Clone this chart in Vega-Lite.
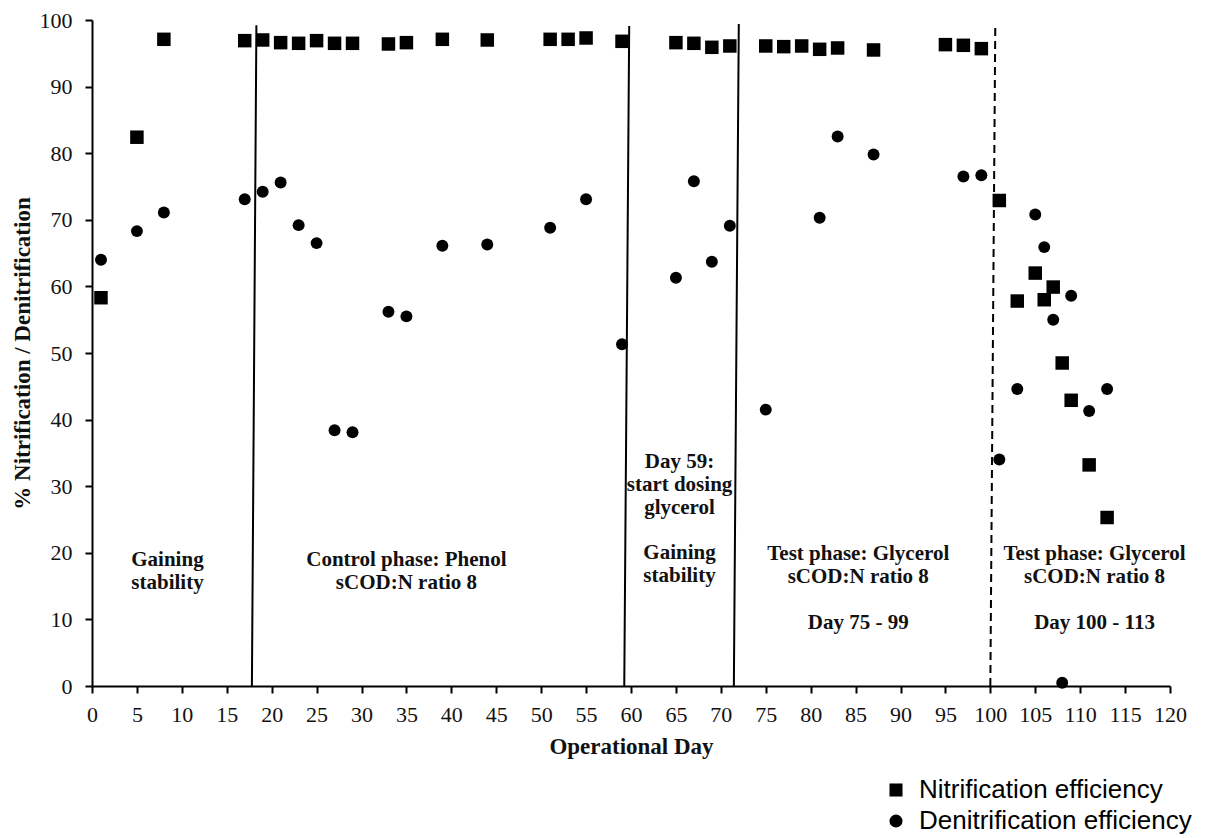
{
  "$schema": "https://vega.github.io/schema/vega-lite/v6.json",
  "width": 1078,
  "height": 666,
  "autosize": {"type": "none"},
  "padding": {"left": 92, "top": 20, "right": 52, "bottom": 152},
  "background": "white",
  "config": {
    "view": {"stroke": null},
    "axis": {"grid": false, "domainColor": "#000", "tickColor": "#000", "labelColor": "#111", "titleColor": "#111", "domainWidth": 2, "tickWidth": 2, "tickSize": 7, "labelFont": "Liberation Serif", "labelFontSize": 22, "titleFont": "Liberation Serif", "titleFontSize": 23, "titleFontWeight": "bold"}
  },
  "datasets": {
    "phases": [
      {"x0": 17.8, "x1": 18.3, "bottom": 0, "top": 99.2, "style": "solid"},
      {"x0": 59.25, "x1": 59.8, "bottom": 0, "top": 99.1, "style": "solid"},
      {"x0": 71.45, "x1": 72.0, "bottom": 0, "top": 99.4, "style": "solid"},
      {"x0": 100.0, "x1": 100.55, "bottom": 0, "top": 99.0, "style": "dashed"}
    ],
    "points": [
      {"day": 1, "value": 58.3, "series": "Nitrification efficiency"},
      {"day": 5, "value": 82.4, "series": "Nitrification efficiency"},
      {"day": 8, "value": 97.1, "series": "Nitrification efficiency"},
      {"day": 17, "value": 96.9, "series": "Nitrification efficiency"},
      {"day": 19, "value": 97.0, "series": "Nitrification efficiency"},
      {"day": 21, "value": 96.6, "series": "Nitrification efficiency"},
      {"day": 23, "value": 96.5, "series": "Nitrification efficiency"},
      {"day": 25, "value": 96.9, "series": "Nitrification efficiency"},
      {"day": 27, "value": 96.5, "series": "Nitrification efficiency"},
      {"day": 29, "value": 96.5, "series": "Nitrification efficiency"},
      {"day": 33, "value": 96.4, "series": "Nitrification efficiency"},
      {"day": 35, "value": 96.6, "series": "Nitrification efficiency"},
      {"day": 39, "value": 97.1, "series": "Nitrification efficiency"},
      {"day": 44, "value": 97.0, "series": "Nitrification efficiency"},
      {"day": 51, "value": 97.1, "series": "Nitrification efficiency"},
      {"day": 53, "value": 97.1, "series": "Nitrification efficiency"},
      {"day": 55, "value": 97.3, "series": "Nitrification efficiency"},
      {"day": 59, "value": 96.8, "series": "Nitrification efficiency"},
      {"day": 65, "value": 96.6, "series": "Nitrification efficiency"},
      {"day": 67, "value": 96.5, "series": "Nitrification efficiency"},
      {"day": 69, "value": 95.9, "series": "Nitrification efficiency"},
      {"day": 71, "value": 96.1, "series": "Nitrification efficiency"},
      {"day": 75, "value": 96.1, "series": "Nitrification efficiency"},
      {"day": 77, "value": 96.0, "series": "Nitrification efficiency"},
      {"day": 79, "value": 96.1, "series": "Nitrification efficiency"},
      {"day": 81, "value": 95.6, "series": "Nitrification efficiency"},
      {"day": 83, "value": 95.8, "series": "Nitrification efficiency"},
      {"day": 87, "value": 95.5, "series": "Nitrification efficiency"},
      {"day": 95, "value": 96.3, "series": "Nitrification efficiency"},
      {"day": 97, "value": 96.2, "series": "Nitrification efficiency"},
      {"day": 99, "value": 95.7, "series": "Nitrification efficiency"},
      {"day": 101, "value": 72.9, "series": "Nitrification efficiency"},
      {"day": 103, "value": 57.8, "series": "Nitrification efficiency"},
      {"day": 105, "value": 62.0, "series": "Nitrification efficiency"},
      {"day": 106, "value": 58.0, "series": "Nitrification efficiency"},
      {"day": 107, "value": 59.9, "series": "Nitrification efficiency"},
      {"day": 108, "value": 48.5, "series": "Nitrification efficiency"},
      {"day": 109, "value": 42.9, "series": "Nitrification efficiency"},
      {"day": 111, "value": 33.2, "series": "Nitrification efficiency"},
      {"day": 113, "value": 25.3, "series": "Nitrification efficiency"},
      {"day": 1, "value": 64.0, "series": "Denitrification efficiency"},
      {"day": 5, "value": 68.3, "series": "Denitrification efficiency"},
      {"day": 8, "value": 71.1, "series": "Denitrification efficiency"},
      {"day": 17, "value": 73.1, "series": "Denitrification efficiency"},
      {"day": 19, "value": 74.2, "series": "Denitrification efficiency"},
      {"day": 21, "value": 75.6, "series": "Denitrification efficiency"},
      {"day": 23, "value": 69.2, "series": "Denitrification efficiency"},
      {"day": 25, "value": 66.5, "series": "Denitrification efficiency"},
      {"day": 27, "value": 38.4, "series": "Denitrification efficiency"},
      {"day": 29, "value": 38.1, "series": "Denitrification efficiency"},
      {"day": 33, "value": 56.2, "series": "Denitrification efficiency"},
      {"day": 35, "value": 55.5, "series": "Denitrification efficiency"},
      {"day": 39, "value": 66.1, "series": "Denitrification efficiency"},
      {"day": 44, "value": 66.3, "series": "Denitrification efficiency"},
      {"day": 51, "value": 68.8, "series": "Denitrification efficiency"},
      {"day": 55, "value": 73.1, "series": "Denitrification efficiency"},
      {"day": 59, "value": 51.3, "series": "Denitrification efficiency"},
      {"day": 65, "value": 61.3, "series": "Denitrification efficiency"},
      {"day": 67, "value": 75.8, "series": "Denitrification efficiency"},
      {"day": 69, "value": 63.7, "series": "Denitrification efficiency"},
      {"day": 71, "value": 69.1, "series": "Denitrification efficiency"},
      {"day": 75, "value": 41.5, "series": "Denitrification efficiency"},
      {"day": 81, "value": 70.3, "series": "Denitrification efficiency"},
      {"day": 83, "value": 82.5, "series": "Denitrification efficiency"},
      {"day": 87, "value": 79.8, "series": "Denitrification efficiency"},
      {"day": 97, "value": 76.5, "series": "Denitrification efficiency"},
      {"day": 99, "value": 76.7, "series": "Denitrification efficiency"},
      {"day": 101, "value": 34.0, "series": "Denitrification efficiency"},
      {"day": 103, "value": 44.6, "series": "Denitrification efficiency"},
      {"day": 105, "value": 70.8, "series": "Denitrification efficiency"},
      {"day": 106, "value": 65.9, "series": "Denitrification efficiency"},
      {"day": 107, "value": 55.0, "series": "Denitrification efficiency"},
      {"day": 108, "value": 0.5, "series": "Denitrification efficiency"},
      {"day": 109, "value": 58.6, "series": "Denitrification efficiency"},
      {"day": 111, "value": 41.3, "series": "Denitrification efficiency"},
      {"day": 113, "value": 44.6, "series": "Denitrification efficiency"}
    ],
    "notes": [
      {"day": 8.4, "value": 18.9, "label": "Gaining"},
      {"day": 8.4, "value": 15.4, "label": "stability"},
      {"day": 35.0, "value": 18.9, "label": "Control phase: Phenol"},
      {"day": 35.0, "value": 15.4, "label": "sCOD:N ratio 8"},
      {"day": 65.4, "value": 33.7, "label": "Day 59:"},
      {"day": 65.4, "value": 30.2, "label": "start dosing"},
      {"day": 65.4, "value": 26.7, "label": "glycerol"},
      {"day": 65.4, "value": 20.0, "label": "Gaining"},
      {"day": 65.4, "value": 16.5, "label": "stability"},
      {"day": 85.3, "value": 19.8, "label": "Test phase: Glycerol"},
      {"day": 85.3, "value": 16.3, "label": "sCOD:N ratio 8"},
      {"day": 85.3, "value": 9.5, "label": "Day 75 - 99"},
      {"day": 111.6, "value": 19.8, "label": "Test phase: Glycerol"},
      {"day": 111.6, "value": 16.3, "label": "sCOD:N ratio 8"},
      {"day": 111.6, "value": 9.5, "label": "Day 100 - 113"}
    ]
  },
  "layer": [
    {
      "data": {"name": "phases"},
      "mark": {"type": "rule", "color": "#000", "strokeWidth": 2},
      "encoding": {
        "x": {"field": "x0", "type": "quantitative", "scale": {"domain": [0, 120], "nice": false, "zero": true},
          "axis": {"title": "Operational Day", "values": [0,5,10,15,20,25,30,35,40,45,50,55,60,65,70,75,80,85,90,95,100,105,110,115,120], "labelPadding": 11, "titlePadding": 10, "labelFlush": false}},
        "x2": {"field": "x1"},
        "y": {"field": "bottom", "type": "quantitative", "scale": {"domain": [0, 100], "nice": false},
          "axis": {"title": "% Nitrification / Denitrification", "values": [0,10,20,30,40,50,60,70,80,90,100], "labelPadding": 13, "titlePadding": 5, "labelFlush": false}},
        "y2": {"field": "top"},
        "strokeDash": {"field": "style", "type": "nominal", "scale": {"domain": ["solid", "dashed"], "range": [[1, 0], [8, 5]]}, "legend": null}
      }
    },
    {
      "data": {"name": "points"},
      "mark": {"type": "point", "filled": true, "color": "#000", "opacity": 1},
      "encoding": {
        "x": {"field": "day", "type": "quantitative"},
        "y": {"field": "value", "type": "quantitative"},
        "shape": {"field": "series", "type": "nominal", "scale": {"domain": ["Nitrification efficiency", "Denitrification efficiency"], "range": ["square", "circle"]},
          "legend": {"title": null, "orient": "none", "legendX": 791, "legendY": 757, "labelFont": "Liberation Sans", "labelFontSize": 26, "labelColor": "#000", "labelOffset": 10, "symbolSize": 170, "symbolFillColor": "#000", "symbolStrokeColor": "#000", "symbolOpacity": 1, "rowPadding": 5, "padding": 0, "labelLimit": 400}},
        "size": {"condition": {"test": "datum.series === 'Nitrification efficiency'", "value": 182}, "value": 143}
      }
    },
    {
      "data": {"name": "notes"},
      "mark": {"type": "text", "font": "Liberation Serif", "fontSize": 21, "fontWeight": "bold", "color": "#111", "align": "center", "baseline": "middle"},
      "encoding": {
        "x": {"field": "day", "type": "quantitative"},
        "y": {"field": "value", "type": "quantitative"},
        "text": {"field": "label"}
      }
    }
  ]
}
